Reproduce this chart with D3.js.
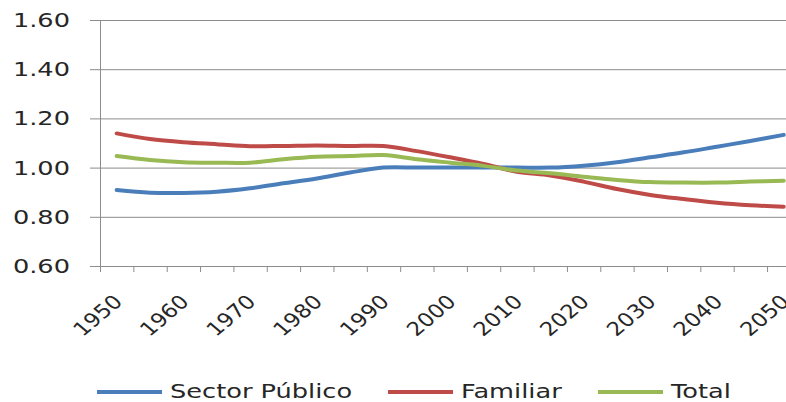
<!DOCTYPE html>
<html>
<head>
<meta charset="utf-8">
<script src="https://cdn.jsdelivr.net/npm/d3@7"></script>
<style>
  html, body { margin: 0; padding: 0; background: #fff; }
  svg { display: block; }
</style>
</head>
<body>
<svg id="chart" width="786" height="402"></svg>
<script>
// ---- data ----
const years = [1950,1955,1960,1965,1970,1975,1980,1985,1990,1995,2000,2005,2010,2015,2020,2025,2030,2035,2040,2045,2050];
const labelYears = [1950,1960,1970,1980,1990,2000,2010,2020,2030,2040,2050];
const sectorPublico = [0.909,0.898,0.897,0.902,0.916,0.936,0.956,0.980,1.000,1.000,1.000,1.000,1.000,1.000,1.008,1.022,1.042,1.062,1.085,1.108,1.133];
const familiar      = [1.139,1.116,1.103,1.095,1.087,1.088,1.090,1.088,1.088,1.067,1.042,1.015,0.983,0.968,0.943,0.913,0.889,0.872,0.857,0.847,0.841];
const total         = [1.047,1.031,1.022,1.020,1.020,1.034,1.044,1.047,1.051,1.034,1.020,1.007,0.988,0.977,0.963,0.950,0.941,0.939,0.939,0.943,0.947];
const yTicks = [0.60,0.80,1.00,1.20,1.40,1.60];
const seriesNames = ["Sector Público","Familiar","Total"];
const seriesColors = ["#4a7ebb","#be4b48","#98b954"];

// ---- layout ----
const svg = d3.select("#chart");
const mLeft = 100, mRight = 800.4, mTop = 20, mBottom = 266;
const SX = 1.35; // horizontal stretch of text
const font = "DejaVu Sans, Verdana, sans-serif";

const x = d3.scaleBand().domain(years).range([mLeft, mRight]).paddingInner(0).paddingOuter(0);
const y = d3.scaleLinear().domain([0.6, 1.6]).range([mBottom, mTop]);
const cx = d => x(d) + x.bandwidth() / 2;

// gridlines + y ticks
const yAxis = d3.axisLeft(y).tickValues(yTicks).tickSize(-(mRight - mLeft)).tickSizeOuter(0).tickFormat("");
const gy = svg.append("g").attr("transform", `translate(${mLeft},0)`).call(yAxis);
gy.select(".domain").remove();
gy.selectAll(".tick line").attr("stroke", "#8c8c8c").attr("stroke-width", 1).attr("x1", -10);

// y axis line
svg.append("line").attr("x1", mLeft + 0.5).attr("x2", mLeft + 0.5).attr("y1", mTop).attr("y2", mBottom)
  .attr("stroke", "#8c8c8c").attr("stroke-width", 1);

// y labels
svg.append("g").selectAll("text").data(yTicks).join("text")
  .attr("transform", d => `translate(70,${y(d) + 7}) scale(${SX},1)`)
  .attr("text-anchor", "end")
  .attr("font-family", font).attr("font-size", 19).attr("fill", "#262626")
  .text(d => d3.format(".2f")(d));

// x axis line + tick marks at category boundaries
svg.append("line").attr("x1", mLeft).attr("x2", mRight).attr("y1", mBottom + 0.5).attr("y2", mBottom + 0.5)
  .attr("stroke", "#8c8c8c").attr("stroke-width", 1);
const bounds = years.map(d => x(d)).concat([x(years[years.length - 1]) + x.bandwidth()]);
svg.append("g").selectAll("line").data(bounds).join("line")
  .attr("x1", d => d + 0.5).attr("x2", d => d + 0.5).attr("y1", mBottom).attr("y2", mBottom + 6)
  .attr("stroke", "#8c8c8c").attr("stroke-width", 1);

// x labels
svg.append("g").selectAll("text").data(labelYears).join("text")
  .attr("transform", d => `translate(${cx(d) + 7},303) scale(1.2,1) rotate(-45)`)
  .attr("text-anchor", "end")
  .attr("font-family", font).attr("font-size", 19).attr("fill", "#262626")
  .text(d => d);

// lines
const allSeries = [sectorPublico, familiar, total];
const line = d3.line().x((d, i) => cx(years[i])).y(d => y(d)).curve(d3.curveCatmullRom.alpha(0.5));
allSeries.forEach((s, i) => {
  svg.append("path").datum(s).attr("d", line)
    .attr("fill", "none").attr("stroke", seriesColors[i]).attr("stroke-width", 4)
    .attr("stroke-linecap", "round").attr("stroke-linejoin", "round");
});

// legend
const legendX = [97, 388, 598];
const lg = svg.append("g");
seriesNames.forEach((n, i) => {
  lg.append("line").attr("x1", legendX[i]).attr("x2", legendX[i] + 65).attr("y1", 392).attr("y2", 392)
    .attr("stroke", seriesColors[i]).attr("stroke-width", 4);
  lg.append("text")
    .attr("transform", `translate(${legendX[i] + 73},398) scale(${SX},1)`)
    .attr("font-family", font).attr("font-size", 19).attr("fill", "#262626")
    .text(n);
});
</script>
</body>
</html>
